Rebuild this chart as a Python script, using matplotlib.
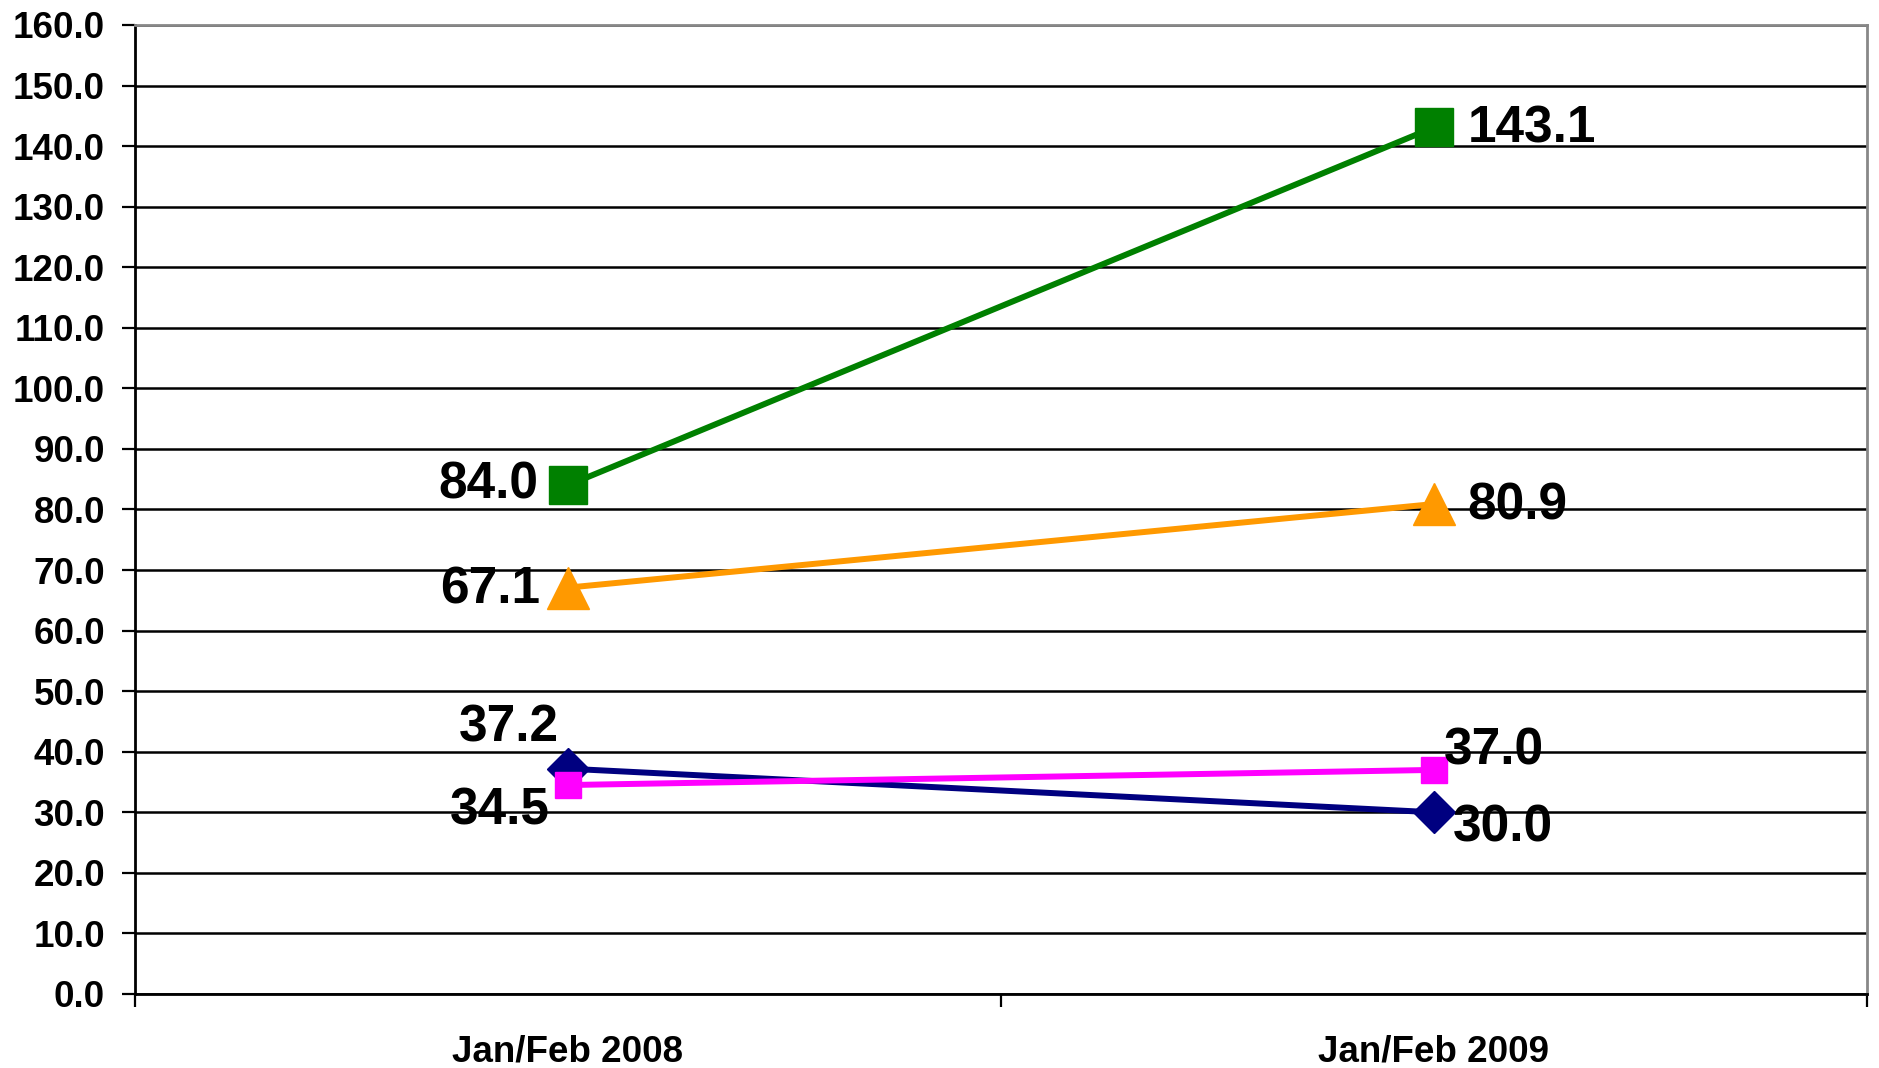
import numpy as np
import matplotlib
matplotlib.use("Agg")
import matplotlib.pyplot as plt

plt.rcParams['font.family'] = ['Liberation Sans', 'DejaVu Sans']

categories = ["Jan/Feb 2008", "Jan/Feb 2009"]
green_vals = [84.0, 143.1]
orange_vals = [67.1, 80.9]
navy_vals = [37.2, 30.0]
pink_vals = [34.5, 37.0]

fig = plt.figure(figsize=(18.79, 10.68), dpi=100)
ax = fig.add_axes([0.0718, 0.0693, 0.9218, 0.9073])

x = np.arange(len(categories))

ax.plot(x, green_vals, color="#008000", lw=4.3, marker="s", ms=28, zorder=5)
ax.plot(x, orange_vals, color="#FF9900", lw=4.3, marker="^", ms=30, zorder=5)
ax.plot(x, navy_vals, color="#000080", lw=4.3, marker="D", ms=21, zorder=5)
ax.plot(x, pink_vals, color="#FF00FF", lw=4.3, marker="s", ms=19, zorder=6)

lab_kw = dict(textcoords="offset pixels", fontsize=37, fontweight="bold", zorder=7)

def lab(xi, yi, dx, dy, ha, va):
    ax.annotate(f"{yi:.1f}", (xi, yi), xytext=(dx, dy), ha=ha, va=va, **lab_kw)

# data labels
lab(0, green_vals[0], -30, 0, "right", "center")
lab(1, green_vals[1], 34, -2, "left", "center")
lab(0, orange_vals[0], -28, -2, "right", "center")
lab(1, orange_vals[1], 33, -2, "left", "center")
lab(0, navy_vals[0], -59, 16, "center", "bottom")
lab(1, navy_vals[1], 19, -16, "left", "center")
lab(0, pink_vals[0], -18, -26, "right", "center")
lab(1, pink_vals[1], 10, 19, "left", "center")

ax.set_xlim(-0.5, 1.5)
ax.set_ylim(0, 160)
ax.set_yticks(np.arange(0, 161, 10))
ax.set_yticklabels([f"{v:.1f}" for v in np.arange(0, 161, 10)])
ax.set_xticks(x)
ax.set_xticklabels(categories)
ax.set_xticks([-0.5, 0.5, 1.5], minor=True)

ax.tick_params(axis="y", length=9.5, width=1.6, pad=12, labelsize=26.5)
for t in ax.get_yticklabels():
    t.set_fontweight("bold")
ax.tick_params(axis="x", which="major", length=0, pad=29, labelsize=26.5)
ax.tick_params(axis="x", which="minor", length=9, width=1.6)
for t in ax.get_xticklabels():
    t.set_fontweight("bold")

ax.yaxis.grid(True, color="black", lw=1.8)
ax.set_axisbelow(True)

ax.spines["left"].set_linewidth(2)
ax.spines["bottom"].set_linewidth(2)
ax.spines["top"].set_color("#888888")
ax.spines["right"].set_color("#888888")
ax.spines["top"].set_linewidth(2)
ax.spines["right"].set_linewidth(2)

fig.savefig("out.png", dpi=100)
